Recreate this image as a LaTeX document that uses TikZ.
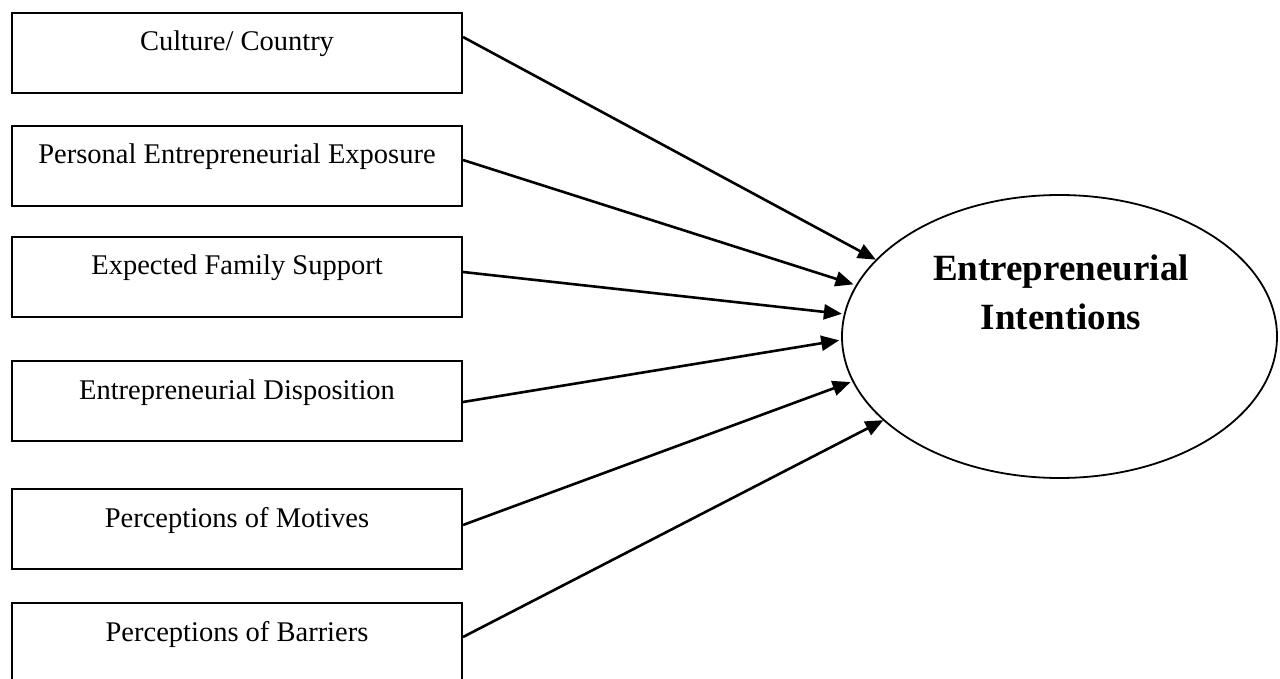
\documentclass[tikz,border=0pt]{standalone}
\usepackage{fontspec}
\setmainfont{Liberation Serif}
\usetikzlibrary{arrows.meta,shapes.geometric}
\begin{document}
\begin{tikzpicture}[x=1pt,y=-1pt,
  factor/.style={draw,line width=2pt,minimum width=450pt,anchor=north west,
    inner xsep=0pt,inner ysep=9pt,text height=29pt,text depth=33pt,
    font=\fontsize{28.5}{34}\selectfont},
  outcome/.style={draw,ellipse,line width=1.8pt,minimum width=435pt,minimum height=283pt,
    inner sep=0pt},
  link/.style={line width=2.6pt,-{Triangle[length=18pt,width=15pt]}}]
\useasboundingbox (0,0) rectangle (1280,679);
% predictor boxes
\node[factor] (b1) at (11,12)  {Culture/ Country};
\node[factor] (b2) at (11,125) {Personal Entrepreneurial Exposure};
\node[factor] (b3) at (11,236) {Expected Family Support};
\node[factor] (b4) at (11,360) {Entrepreneurial Disposition};
\node[factor] (b5) at (11,488) {Perceptions of Motives};
\node[factor] (b6) at (11,602) {Perceptions of Barriers};
% outcome
\node[outcome] (ei) at (1059.5,336.5) {};
\node[font=\fontsize{37}{49}\selectfont\bfseries,align=center,anchor=base]
  (eit) at (1061,329) {Entrepreneurial\\Intentions};
% paths
\draw[link] ([yshift=-25pt]b1.north east) -- ([shift={(-6pt,-6pt)}]ei.155.7);
\draw[link] ([yshift=-35pt]b2.north east) -- ([shift={(-4pt,-2pt)}]ei.165.7);
\draw[link] ([yshift=-36pt]b3.north east) -- ([xshift=-2pt]ei.174.4);
\draw[link] ([yshift=-42pt]b4.north east) -- ([xshift=-2pt]ei.181.4);
\draw[link] ([yshift=-37pt]b5.north east) -- ([shift={(-3pt,2pt)}]ei.193.9);
\draw[link] ([yshift=-35pt]b6.north east) -- ([shift={(-4pt,4pt)}]ei.207.2);
\end{tikzpicture}
\end{document}
